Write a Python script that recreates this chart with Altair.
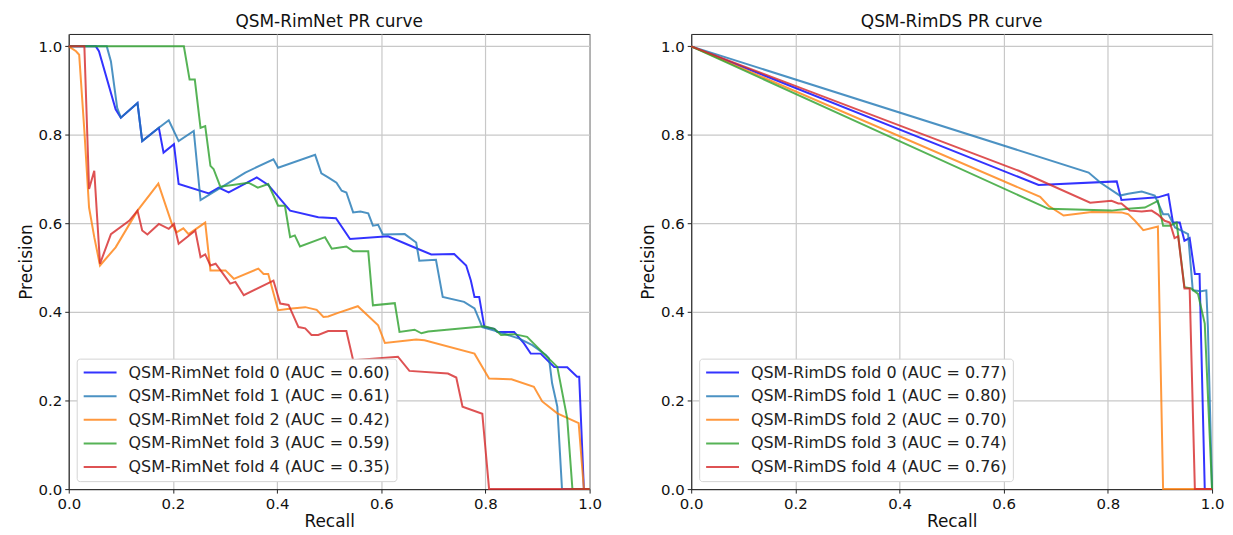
import altair as alt
import pandas as pd

# ---------------- data ----------------
ticks = [0.0, 0.2, 0.4, 0.6, 0.8, 1.0]
fold_colors = ["blue", "#1f77b4", "#ff7f0e", "#2ca02c", "#d62728"]

left_title = "QSM-RimNet PR curve"
left_prefix = "QSM-RimNet"
left_auc = [0.60, 0.61, 0.42, 0.59, 0.35]

left_f0_recall = [0, 0.052, 0.058, 0.090, 0.100, 0.132, 0.141, 0.173, 0.182, 0.202, 0.211, 0.269, 0.288, 0.307,
                  0.361, 0.383, 0.425, 0.479, 0.513, 0.540, 0.613, 0.657, 0.696, 0.740, 0.763, 0.772, 0.779, 0.788,
                  0.798, 0.817, 0.823, 0.855, 0.874, 0.887, 0.906, 0.932, 0.957, 0.976, 0.980, 0.989, 1.0]
left_f0_prec = [1, 1, 0.989, 0.858, 0.839, 0.872, 0.786, 0.816, 0.760, 0.779, 0.689, 0.668, 0.681, 0.670,
                0.704, 0.687, 0.629, 0.614, 0.612, 0.565, 0.571, 0.549, 0.530, 0.531, 0.505, 0.471, 0.434, 0.434,
                0.366, 0.362, 0.355, 0.355, 0.329, 0.306, 0.306, 0.276, 0.275, 0.254, 0.254, 0.0, 0.0]

left_f1_recall = [0, 0.073, 0.081, 0.093, 0.100, 0.132, 0.141, 0.173, 0.192, 0.211, 0.240, 0.253, 0.288, 0.339,
                  0.393, 0.402, 0.473, 0.485, 0.498, 0.514, 0.524, 0.533, 0.546, 0.560, 0.575, 0.584, 0.594, 0.603,
                  0.645, 0.667, 0.673, 0.705, 0.718, 0.759, 0.779, 0.794, 0.817, 0.865, 0.890, 0.916, 0.922, 0.928,
                  0.938, 0.947, 1.0]
left_f1_prec = [1, 1, 0.966, 0.861, 0.839, 0.872, 0.786, 0.816, 0.833, 0.786, 0.809, 0.653, 0.678, 0.715,
                0.745, 0.726, 0.755, 0.713, 0.704, 0.692, 0.674, 0.670, 0.625, 0.627, 0.623, 0.595, 0.597, 0.575,
                0.576, 0.557, 0.516, 0.518, 0.434, 0.423, 0.408, 0.366, 0.358, 0.340, 0.325, 0.303, 0.295, 0.239,
                0.186, 0.0, 0.0]

left_f2_recall = [0, 0.014, 0.020, 0.030, 0.039, 0.049, 0.060, 0.090, 0.132, 0.172, 0.198, 0.207, 0.220, 0.230,
                  0.262, 0.272, 0.301, 0.317, 0.364, 0.374, 0.383, 0.402, 0.428, 0.454, 0.476, 0.489, 0.498, 0.517,
                  0.555, 0.594, 0.607, 0.667, 0.683, 0.779, 0.794, 0.807, 0.850, 0.893, 0.909, 0.938, 0.979, 0.989,
                  1.0]
left_f2_prec = [1, 0.989, 0.981, 0.809, 0.636, 0.569, 0.505, 0.546, 0.629, 0.690, 0.599, 0.580, 0.589, 0.576,
                0.602, 0.494, 0.494, 0.475, 0.498, 0.486, 0.486, 0.404, 0.408, 0.411, 0.405, 0.389, 0.390, 0.398,
                0.413, 0.370, 0.330, 0.338, 0.336, 0.306, 0.276, 0.250, 0.248, 0.231, 0.198, 0.171, 0.149, 0.0,
                0.0]

left_f3_recall = [0, 0.221, 0.232, 0.242, 0.253, 0.262, 0.272, 0.278, 0.291, 0.345, 0.363, 0.383, 0.402, 0.415,
                  0.425, 0.434, 0.444, 0.492, 0.505, 0.533, 0.546, 0.575, 0.584, 0.626, 0.635, 0.664, 0.677, 0.690,
                  0.798, 0.817, 0.830, 0.855, 0.880, 0.912, 0.938, 0.957, 0.967, 1.0]
left_f3_prec = [1, 1, 0.925, 0.925, 0.816, 0.820, 0.730, 0.723, 0.683, 0.692, 0.681, 0.689, 0.640, 0.640,
                0.569, 0.573, 0.548, 0.569, 0.543, 0.548, 0.537, 0.537, 0.415, 0.420, 0.355, 0.360, 0.352, 0.356,
                0.368, 0.362, 0.348, 0.350, 0.344, 0.306, 0.276, 0.160, 0.0, 0.0]

left_f4_recall = [0, 0.030, 0.039, 0.049, 0.060, 0.081, 0.116, 0.132, 0.141, 0.151, 0.173, 0.192, 0.202, 0.211,
                  0.243, 0.253, 0.262, 0.272, 0.282, 0.294, 0.310, 0.320, 0.336, 0.393, 0.406, 0.422, 0.441, 0.454,
                  0.466, 0.479, 0.498, 0.533, 0.546, 0.632, 0.654, 0.728, 0.744, 0.756, 0.794, 0.807, 1.0]
left_f4_prec = [1, 1, 0.678, 0.719, 0.509, 0.576, 0.606, 0.629, 0.584, 0.575, 0.599, 0.588, 0.599, 0.554,
                0.584, 0.524, 0.530, 0.505, 0.509, 0.490, 0.464, 0.468, 0.438, 0.471, 0.419, 0.416, 0.366, 0.363,
                0.348, 0.348, 0.357, 0.357, 0.291, 0.299, 0.267, 0.261, 0.252, 0.186, 0.170, 0.0, 0.0]

right_title = "QSM-RimDS PR curve"
right_prefix = "QSM-RimDS"
right_auc = [0.77, 0.80, 0.70, 0.74, 0.76]

right_f0_recall = [0, 0.667, 0.817, 0.826, 0.896, 0.916, 0.925, 0.938, 0.947, 0.957, 0.967, 0.976, 0.986, 1.0]
right_f0_prec = [1, 0.687, 0.695, 0.653, 0.659, 0.666, 0.602, 0.602, 0.561, 0.567, 0.486, 0.486, 0.0, 0.0]

right_f1_recall = [0, 0.763, 0.786, 0.823, 0.839, 0.865, 0.890, 0.906, 0.916, 0.929, 0.941, 0.954, 0.963, 0.979,
                   0.989, 0.992, 1.0]
right_f1_prec = [1, 0.715, 0.692, 0.663, 0.667, 0.672, 0.663, 0.621, 0.621, 0.591, 0.584, 0.576, 0.449, 0.447,
                 0.449, 0.366, 0.0]

right_f2_recall = [0, 0.670, 0.686, 0.715, 0.769, 0.826, 0.839, 0.852, 0.868, 0.896, 0.906, 1.0]
right_f2_prec = [1, 0.660, 0.640, 0.618, 0.626, 0.625, 0.621, 0.606, 0.585, 0.593, 0.0, 0.0]

right_f3_recall = [0, 0.686, 0.807, 0.839, 0.871, 0.896, 0.906, 0.919, 0.932, 0.947, 0.960, 0.973, 0.986, 1.0]
right_f3_prec = [1, 0.633, 0.629, 0.633, 0.636, 0.651, 0.595, 0.595, 0.602, 0.456, 0.453, 0.441, 0.374, 0.0]

right_f4_recall = [0, 0.629, 0.766, 0.807, 0.820, 0.826, 0.842, 0.865, 0.884, 0.896, 0.909, 0.919, 0.928, 0.935,
                   0.947, 0.957, 0.967, 1.0]
right_f4_prec = [1, 0.719, 0.647, 0.651, 0.645, 0.645, 0.629, 0.627, 0.629, 0.620, 0.606, 0.602, 0.567, 0.571,
                 0.453, 0.453, 0.0, 0.0]

FONT = "DejaVu Sans"


def build_df(prefix, aucs, recalls, precs):
    rows = []
    labels = []
    for k, (rs, ps) in enumerate(zip(recalls, precs)):
        label = f"{prefix} fold {k} (AUC = {aucs[k]:.2f})"
        labels.append(label)
        for i, (r, p) in enumerate(zip(rs, ps)):
            rows.append({"series": label, "recall": r, "precision": p, "idx": i})
    return pd.DataFrame(rows), labels


def panel(title, prefix, aucs, recalls, precs):
    df, labels = build_df(prefix, aucs, recalls, precs)
    return alt.Chart(df).mark_line(strokeWidth=2, opacity=0.8).encode(
        x=alt.X("recall:Q", title="Recall",
                scale=alt.Scale(domain=[0, 1], nice=False, zero=False),
                axis=alt.Axis(values=ticks, format=".1f", labelFlush=False)),
        y=alt.Y("precision:Q", title="Precision",
                scale=alt.Scale(domain=[0, 1.028], nice=False, zero=False),
                axis=alt.Axis(values=ticks, format=".1f", labelFlush=False)),
        color=alt.Color("series:N",
                        scale=alt.Scale(domain=labels, range=fold_colors),
                        legend=alt.Legend(
                            title=None, orient="bottom-left", offset=8,
                            symbolType="stroke", symbolSize=1089, symbolStrokeWidth=2,
                            symbolOpacity=0.8, clipHeight=16, rowPadding=7.7,
                            labelFont=FONT, labelFontSize=16, labelColor="#222",
                            labelOffset=11, labelLimit=0, padding=6,
                            strokeColor="#d4d4d4", fillColor="white", cornerRadius=3)),
        order=alt.Order("idx:Q"),
    ).properties(width=523, height=457, title=title)


left = panel(left_title, left_prefix, left_auc,
             [left_f0_recall, left_f1_recall, left_f2_recall, left_f3_recall, left_f4_recall],
             [left_f0_prec, left_f1_prec, left_f2_prec, left_f3_prec, left_f4_prec])
right = panel(right_title, right_prefix, right_auc,
              [right_f0_recall, right_f1_recall, right_f2_recall, right_f3_recall, right_f4_recall],
              [right_f0_prec, right_f1_prec, right_f2_prec, right_f3_prec, right_f4_prec])

chart = alt.hconcat(left, right, spacing=36).resolve_scale(color="independent").properties(
    padding={"left": 8, "top": 3, "right": 0, "bottom": 0}
).configure_view(
    stroke="#222", strokeWidth=1
).configure_axis(
    labelFont=FONT, labelFontSize=15, labelColor="#111",
    titleFont=FONT, titleFontSize=17, titleFontWeight="normal", titleColor="#111",
    gridColor="#c8c8c8", gridWidth=1.2, domainColor="#222",
    tickColor="#222", tickSize=4, labelPadding=3, titlePadding=3
).configure_title(
    font=FONT, fontSize=17, fontWeight="normal", color="#111", offset=3
)

chart.save("out.html", embed_options={"renderer": "svg", "actions": False})
